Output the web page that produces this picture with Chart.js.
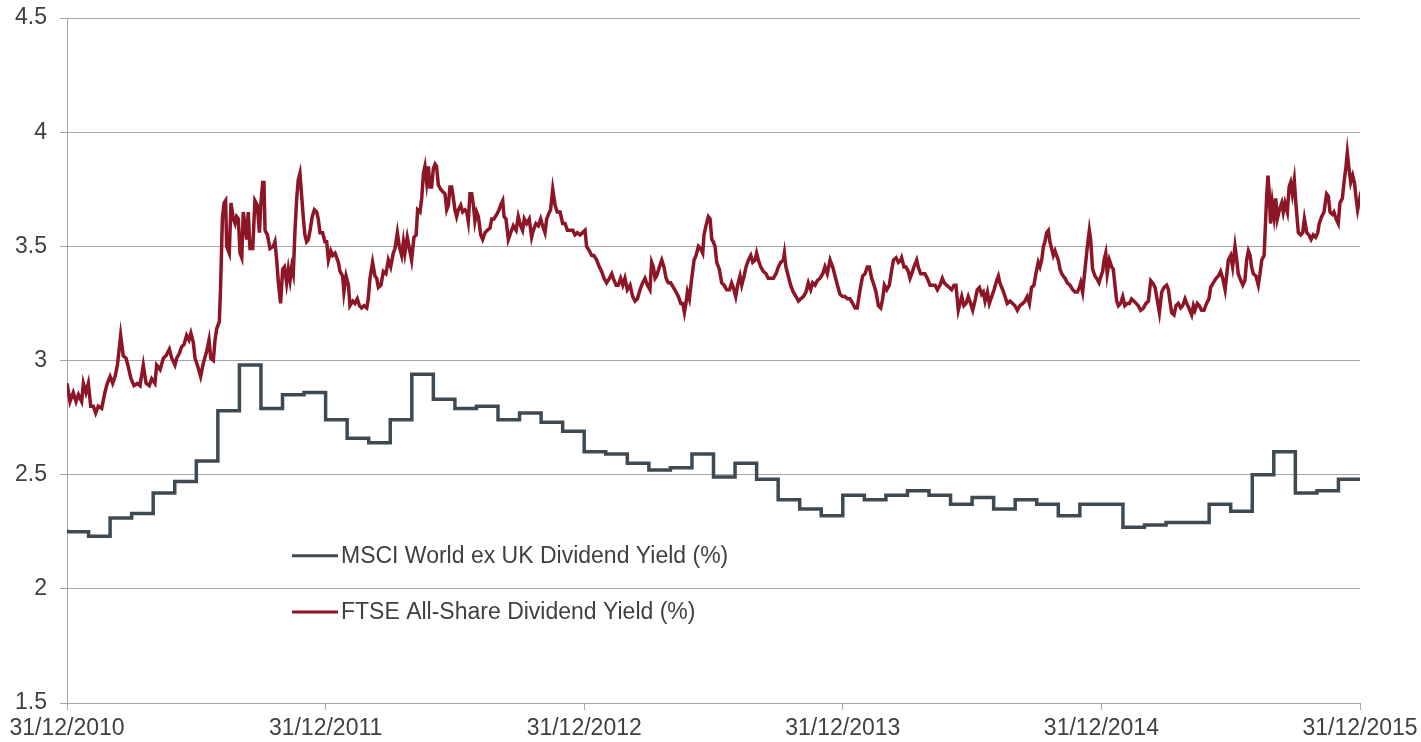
<!DOCTYPE html>
<html>
<head>
<meta charset="utf-8">
<script src="https://cdn.jsdelivr.net/npm/chart.js@4/dist/chart.umd.min.js"></script>
<style>
  html, body { margin: 0; padding: 0; background: #fff; }
  #wrap { width: 1421px; height: 742px; position: relative; }
</style>
</head>
<body>
<div id="wrap"><canvas id="chart"></canvas></div>
<script>
// x axis runs in months since 31/12/2010
const xTickLabels = ['31/12/2010', '31/12/2011', '31/12/2012', '31/12/2013', '31/12/2014', '31/12/2015']

// MSCI World ex UK - one value per month (step line), last entry is the 31/12/2015 print
const msciYield = [
  2.26, 2.25, 2.23, 2.31, 2.33, 2.42, 2.47, 2.56, 2.78, 2.98, 2.79, 2.85,
  2.86, 2.74, 2.66, 2.64, 2.74, 2.94, 2.83, 2.79, 2.80, 2.74, 2.77, 2.73,
  2.69, 2.60, 2.59, 2.55, 2.52, 2.53, 2.59, 2.49, 2.55, 2.48, 2.39, 2.35,
  2.32, 2.41, 2.39, 2.41, 2.43, 2.41, 2.37, 2.40, 2.35, 2.39, 2.37, 2.32,
  2.37, 2.37, 2.27, 2.28, 2.29, 2.29, 2.37, 2.34, 2.50, 2.60, 2.42, 2.43,
  2.48
]

// FTSE All-Share - month position and yield
const ftseMonth = [
  0, 0.14, 0.29, 0.42, 0.53, 0.68, 0.76, 0.88, 0.99, 1.10, 1.22, 1.33, 1.45, 1.61, 1.76, 1.87,
  2.00, 2.12, 2.23, 2.34, 2.49, 2.61, 2.74, 2.85, 2.97, 3.11, 3.26, 3.39, 3.54, 3.67, 3.82, 3.93,
  4.08, 4.16, 4.32, 4.47, 4.59, 4.75, 4.86, 5.01, 5.09, 5.21, 5.32, 5.43, 5.55, 5.66, 5.75, 5.86,
  5.94, 6.05, 6.20, 6.33, 6.48, 6.59, 6.67, 6.79, 6.87, 6.95, 7.07, 7.13, 7.21, 7.29, 7.36, 7.41,
  7.53, 7.61, 7.72, 7.80, 7.87, 7.95, 8.03, 8.11, 8.18, 8.26, 8.34, 8.41, 8.49, 8.62, 8.72, 8.83,
  8.93, 9.00, 9.08, 9.14, 9.19, 9.30,
  9.42, 9.57, 9.65, 9.73, 9.81, 9.91, 10.01, 10.09, 10.19, 10.27, 10.35, 10.43, 10.50, 10.58, 10.66, 10.73,
  10.81, 10.89, 10.97, 11.04, 11.12, 11.20, 11.28, 11.38, 11.48, 11.59, 11.66, 11.74, 11.86, 11.97, 12.05, 12.13,
  12.24, 12.33, 12.44, 12.59, 12.67, 12.79, 12.85, 12.95, 13.06, 13.13, 13.26, 13.36, 13.47, 13.57, 13.67, 13.78,
  13.91, 13.98, 14.06, 14.18, 14.29, 14.37, 14.45, 14.57, 14.68, 14.80, 14.91, 15.02, 15.14, 15.22, 15.33, 15.42,
  15.53, 15.61, 15.68, 15.79, 15.89, 15.99, 16.10, 16.20, 16.27, 16.38, 16.46, 16.54, 16.61, 16.69, 16.77, 16.84,
  16.92, 17.00, 17.08, 17.15, 17.23, 17.34, 17.43, 17.54, 17.62, 17.70, 17.77, 17.85, 17.93, 18.00, 18.08, 18.16,
  18.27, 18.36, 18.47, 18.55, 18.62, 18.70, 18.78, 18.86, 18.93, 19.01, 19.09, 19.20, 19.29, 19.40, 19.50, 19.63,
  19.71, 19.81, 19.94, 20.05, 20.12, 20.22, 20.28, 20.37, 20.48, 20.59, 20.71, 20.84, 20.94, 21.05, 21.14, 21.22,
  21.33, 21.45, 21.56, 21.64, 21.76, 21.87, 21.98, 22.07, 22.18, 22.26, 22.34, 22.44, 22.54, 22.65, 22.75, 22.88,
  23.00, 23.11, 23.22, 23.34, 23.47, 23.57, 23.68, 23.81, 23.93, 24.04, 24.11, 24.24, 24.35, 24.45, 24.58, 24.70,
  24.81, 24.92, 25.04, 25.17, 25.28, 25.35, 25.48, 25.58, 25.69, 25.79, 25.89, 26.00, 26.13, 26.25, 26.36, 26.47,
  26.59, 26.71, 26.82, 26.93, 27.05, 27.13, 27.21, 27.29, 27.36, 27.49, 27.60, 27.70, 27.80, 27.90, 28.01, 28.14,
  28.26, 28.37, 28.48, 28.57, 28.65, 28.72, 28.79, 28.88,
  28.99, 29.10, 29.19, 29.30, 29.40, 29.50, 29.56, 29.65, 29.76, 29.84, 29.92, 29.99, 30.07, 30.15, 30.27, 30.38,
  30.49, 30.61, 30.74, 30.84, 30.92, 31.03, 31.12, 31.23, 31.31, 31.42, 31.51, 31.62, 31.73, 31.82, 31.93, 32.00,
  32.08, 32.19, 32.31, 32.44, 32.54, 32.65, 32.78, 32.90, 33.01, 33.12, 33.24, 33.29, 33.36, 33.47, 33.58, 33.70,
  33.83, 33.94, 34.05, 34.17, 34.29, 34.40, 34.51, 34.60, 34.71, 34.82, 34.94, 35.07, 35.17, 35.28, 35.41, 35.53,
  35.64, 35.75, 35.87, 35.99, 36.10, 36.21, 36.33, 36.46, 36.57, 36.67, 36.80, 36.92, 37.03, 37.14, 37.23, 37.34,
  37.45, 37.54, 37.65, 37.76, 37.85, 37.93, 38.04, 38.16, 38.24, 38.35, 38.47, 38.58, 38.69,
  38.73, 38.84, 38.93, 39.04, 39.12, 39.20, 39.30, 39.43, 39.50, 39.61, 39.71, 39.81, 39.92, 40.05, 40.17, 40.28,
  40.39, 40.51, 40.62, 40.71, 40.82, 40.94, 41.05, 41.16, 41.25, 41.36, 41.44, 41.52, 41.62, 41.72, 41.82, 41.93,
  42.03, 42.13, 42.24, 42.34, 42.44, 42.52, 42.60, 42.71, 42.80, 42.91, 43.02, 43.14, 43.22, 43.29, 43.42, 43.53,
  43.63, 43.76, 43.88, 43.99, 44.10, 44.22, 44.35, 44.45, 44.56, 44.66, 44.76, 44.87, 44.96, 45.07, 45.15, 45.23,
  45.31, 45.38, 45.46, 45.54, 45.61, 45.69, 45.77, 45.85, 45.92, 46.00, 46.08, 46.16, 46.23, 46.31, 46.42, 46.54,
  46.67, 46.78, 46.88, 46.98, 47.04, 47.13, 47.24, 47.35, 47.44, 47.50, 47.59, 47.70, 47.78, 47.89, 47.98, 48.06,
  48.12, 48.20, 48.27, 48.37,
  48.48, 48.55, 48.63, 48.71, 48.79, 48.89, 48.99, 49.09, 49.20, 49.30, 49.40, 49.51, 49.61, 49.71, 49.82, 49.95,
  50.07, 50.18, 50.29, 50.38, 50.49, 50.60, 50.69, 50.80, 50.91, 51.03, 51.11, 51.18, 51.26, 51.37, 51.46, 51.57,
  51.68, 51.77, 51.88, 51.96, 52.06, 52.19, 52.27, 52.34, 52.45, 52.54, 52.65, 52.76, 52.88, 52.99, 53.07, 53.19,
  53.32, 53.43, 53.53, 53.63, 53.74, 53.81, 53.89, 54.00, 54.09, 54.20, 54.28, 54.35, 54.43, 54.56, 54.66, 54.74,
  54.82, 54.90, 54.97, 55.05, 55.17, 55.28, 55.36, 55.44, 55.55, 55.61, 55.67, 55.73, 55.79, 55.85, 55.93, 56.01,
  56.09, 56.16, 56.26, 56.37, 56.44, 56.52, 56.63, 56.71, 56.78, 56.86, 56.95, 57.03, 57.14, 57.25, 57.34, 57.42,
  57.53, 57.63, 57.73, 57.83, 57.94, 58.04, 58.11, 58.22, 58.33, 58.45, 58.53, 58.61, 58.72, 58.79, 58.89, 58.99,
  59.07, 59.18, 59.27, 59.35, 59.41, 59.49, 59.57, 59.66, 59.74, 59.82, 59.89, 59.97, 60.00
]
const ftseYield = [
  2.90, 2.82, 2.86, 2.82, 2.85, 2.82, 2.90, 2.86, 2.90, 2.80, 2.80, 2.77, 2.80, 2.79, 2.86, 2.90,
  2.93, 2.90, 2.93, 2.98, 3.11, 3.02, 3.01, 2.97, 2.92, 2.89, 2.90, 2.89, 2.98, 2.90, 2.89, 2.92,
  2.90, 2.98, 2.96, 3.01, 3.02, 3.05, 3.01, 2.98, 3.01, 3.03, 3.06, 3.07, 3.11, 3.09, 3.12, 3.08,
  3.01, 2.98, 2.93, 2.99, 3.04, 3.09, 3.01, 3.00, 3.09, 3.14, 3.17, 3.33, 3.62, 3.69, 3.70, 3.50,
  3.47, 3.69, 3.62, 3.60, 3.63, 3.62, 3.47, 3.45, 3.65, 3.59, 3.53, 3.65, 3.49, 3.49, 3.70, 3.68,
  3.56, 3.69, 3.78, 3.78, 3.57, 3.55,
  3.49, 3.50, 3.52, 3.44, 3.34, 3.25, 3.40, 3.41, 3.34, 3.40, 3.35, 3.41, 3.38, 3.57, 3.71, 3.79,
  3.82, 3.72, 3.62, 3.55, 3.52, 3.53, 3.57, 3.63, 3.66, 3.65, 3.62, 3.56, 3.56, 3.52, 3.52, 3.44,
  3.48, 3.46, 3.47, 3.43, 3.39, 3.37, 3.30, 3.37, 3.33, 3.24, 3.26, 3.25, 3.27, 3.24, 3.23, 3.24,
  3.23, 3.27, 3.36, 3.43, 3.37, 3.36, 3.32, 3.33, 3.39, 3.38, 3.44, 3.41, 3.47, 3.49, 3.56, 3.50,
  3.46, 3.52, 3.47, 3.54, 3.49, 3.44, 3.54, 3.55, 3.66, 3.65, 3.71, 3.82, 3.85, 3.78, 3.85, 3.76,
  3.76, 3.84, 3.86, 3.85, 3.77, 3.75, 3.74, 3.73, 3.66, 3.68, 3.76, 3.76, 3.71, 3.66, 3.63, 3.66,
  3.68, 3.65, 3.66, 3.65, 3.61, 3.73, 3.73, 3.68, 3.61, 3.65, 3.63, 3.55, 3.53, 3.56, 3.57, 3.58,
  3.62, 3.62, 3.64, 3.66, 3.68, 3.70, 3.63, 3.62, 3.53, 3.56, 3.59, 3.57, 3.63, 3.59, 3.57, 3.62,
  3.60, 3.62, 3.54, 3.57, 3.60, 3.59, 3.62, 3.59, 3.56, 3.62, 3.64, 3.66, 3.75, 3.68, 3.65, 3.65,
  3.60, 3.60, 3.57, 3.57, 3.57, 3.55, 3.56, 3.55, 3.56, 3.57, 3.50, 3.48, 3.46, 3.46, 3.44, 3.41,
  3.39, 3.36, 3.34, 3.36, 3.38, 3.36, 3.33, 3.33, 3.36, 3.33, 3.36, 3.31, 3.33, 3.28, 3.26, 3.27,
  3.31, 3.34, 3.36, 3.33, 3.31, 3.43, 3.41, 3.36, 3.37, 3.41, 3.44, 3.41, 3.36, 3.34, 3.34, 3.32,
  3.30, 3.28, 3.25, 3.25, 3.21, 3.25, 3.30, 3.27,
  3.36, 3.44, 3.46, 3.50, 3.49, 3.47, 3.55, 3.59, 3.63, 3.62, 3.53, 3.52, 3.50, 3.43, 3.40, 3.34,
  3.33, 3.31, 3.31, 3.34, 3.32, 3.28, 3.33, 3.37, 3.33, 3.37, 3.41, 3.44, 3.46, 3.43, 3.44, 3.47,
  3.44, 3.41, 3.39, 3.38, 3.36, 3.36, 3.36, 3.38, 3.41, 3.43, 3.44, 3.47, 3.41, 3.37, 3.33, 3.30,
  3.28, 3.26, 3.27, 3.28, 3.30, 3.34, 3.31, 3.34, 3.33, 3.35, 3.36, 3.38, 3.41, 3.38, 3.44, 3.41,
  3.37, 3.33, 3.29, 3.28, 3.28, 3.27, 3.27, 3.25, 3.23, 3.23, 3.31, 3.37, 3.38, 3.41, 3.41, 3.36,
  3.33, 3.30, 3.24, 3.23, 3.27, 3.33, 3.31, 3.33, 3.38, 3.44, 3.45, 3.43, 3.44,
  3.45, 3.41, 3.41, 3.39, 3.36, 3.38, 3.41, 3.44, 3.41, 3.38, 3.38, 3.38, 3.36, 3.33, 3.33, 3.33,
  3.31, 3.33, 3.36, 3.34, 3.33, 3.32, 3.31, 3.33, 3.33, 3.22, 3.25, 3.28, 3.24, 3.25, 3.28, 3.25,
  3.22, 3.26, 3.31, 3.32, 3.29, 3.30, 3.26, 3.30, 3.25, 3.28, 3.31, 3.35, 3.37, 3.34, 3.31, 3.28,
  3.25, 3.26, 3.25, 3.24, 3.22, 3.24, 3.25, 3.26, 3.28, 3.25, 3.32, 3.33, 3.38, 3.43, 3.41, 3.44,
  3.50, 3.52, 3.56, 3.57, 3.52, 3.49, 3.46, 3.48, 3.46, 3.44, 3.40, 3.38, 3.37, 3.36, 3.34, 3.33,
  3.31, 3.30, 3.30, 3.32, 3.34, 3.30, 3.40, 3.50, 3.57, 3.53, 3.40, 3.37, 3.36, 3.34, 3.37, 3.39,
  3.44, 3.47, 3.38, 3.44,
  3.41, 3.40, 3.33, 3.26, 3.24, 3.25, 3.28, 3.24, 3.25, 3.25, 3.27, 3.26, 3.25, 3.24, 3.22, 3.23,
  3.25, 3.26, 3.35, 3.34, 3.32, 3.26, 3.21, 3.30, 3.32, 3.33, 3.31, 3.26, 3.21, 3.20, 3.24, 3.25,
  3.23, 3.24, 3.27, 3.25, 3.23, 3.20, 3.24, 3.22, 3.25, 3.24, 3.22, 3.22, 3.25, 3.27, 3.32, 3.34,
  3.36, 3.37, 3.39, 3.36, 3.31, 3.37, 3.44, 3.46, 3.41, 3.50, 3.44, 3.38, 3.36, 3.33, 3.35, 3.44,
  3.48, 3.46, 3.41, 3.38, 3.37, 3.33, 3.38, 3.44, 3.46, 3.59, 3.72, 3.81, 3.73, 3.60, 3.69, 3.63,
  3.71, 3.62, 3.66, 3.69, 3.65, 3.69, 3.65, 3.76, 3.78, 3.73, 3.79, 3.68, 3.56, 3.55, 3.56, 3.62,
  3.56, 3.55, 3.53, 3.55, 3.54, 3.56, 3.60, 3.63, 3.65, 3.73, 3.72, 3.65, 3.64, 3.65, 3.62, 3.60,
  3.69, 3.71, 3.79, 3.85, 3.91, 3.84, 3.78, 3.81, 3.78, 3.71, 3.66, 3.70, 3.68
]

const font = '"Liberation Sans", Arial, sans-serif'
const labelColor = '#404040'
const gridColor = '#a6a6a6'

// legend sits inside the plot, under the MSCI line
const insideLegend = {
  id: 'insideLegend',
  afterDraw(chart) {
    const { ctx, chartArea: a } = chart
    const x = a.left + a.width * 0.174
    ctx.save()
    ctx.font = '23px ' + font
    ctx.textBaseline = 'middle'
    chart.data.datasets.forEach((ds, i) => {
      const y = a.top + a.height * (0.785 + i * 0.082)
      ctx.strokeStyle = ds.borderColor
      ctx.lineWidth = 3
      ctx.beginPath()
      ctx.moveTo(x, y)
      ctx.lineTo(x + 46, y)
      ctx.stroke()
      ctx.fillStyle = labelColor
      ctx.fillText(ds.label, x + 49, y + 1)
    })
    ctx.restore()
  },
}

new Chart(document.getElementById('chart'), {
  type: 'line',
  data: {
    datasets: [
      {
        label: 'MSCI World ex UK Dividend Yield (%)',
        data: msciYield.map((v, i) => ({ x: i, y: v })),
        borderColor: '#3e4a52',
        borderWidth: 3.5,
        stepped: 'after',
        pointRadius: 0,
      },
      {
        label: 'FTSE All-Share Dividend Yield (%)',
        data: ftseMonth.map((m, i) => ({ x: m, y: ftseYield[i] })),
        borderColor: '#8c1526',
        borderWidth: 3.5,
        pointRadius: 0,
        tension: 0,
      },
    ],
  },
  options: {
    responsive: true,
    maintainAspectRatio: false,
    animation: false,
    layout: { padding: { top: 18, right: 61, left: 0, bottom: 0 } },
    plugins: {
      legend: { display: false },
      tooltip: { enabled: false },
    },
    scales: {
      x: {
        type: 'linear',
        min: 0,
        max: 60,
        afterFit: (s) => {
          s.height = 39
          s.paddingLeft = 0
          s.paddingRight = 0
        },
        border: { color: gridColor, width: 1 },
        grid: { drawOnChartArea: false, drawTicks: true, tickLength: 7, color: gridColor },
        ticks: {
          stepSize: 12,
          maxRotation: 0,
          padding: 5,
          color: labelColor,
          font: { family: font, size: 23 },
          callback: (v) => xTickLabels[v / 12],
        },
      },
      y: {
        min: 1.5,
        max: 4.5,
        afterFit: (s) => {
          s.width = 67
          s.paddingTop = 0
          s.paddingBottom = 0
        },
        border: { color: gridColor, width: 1 },
        grid: { color: gridColor, tickLength: 7 },
        ticks: {
          stepSize: 0.5,
          padding: 13,
          color: labelColor,
          font: { family: font, size: 23 },
          callback: (v) => String(v),
        },
      },
    },
  },
  plugins: [insideLegend],
})
</script>
</body>
</html>
